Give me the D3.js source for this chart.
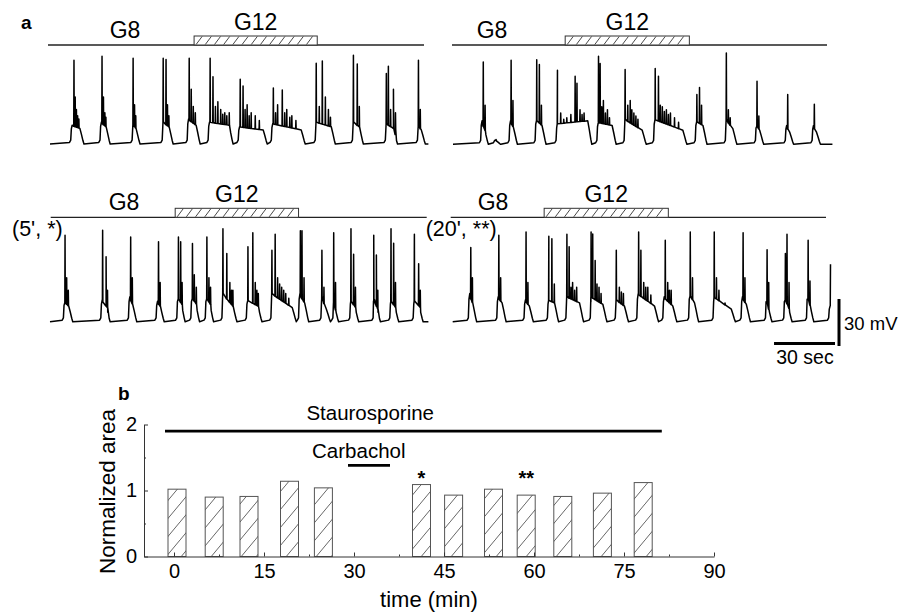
<!DOCTYPE html>
<html>
<head>
<meta charset="utf-8">
<script src="https://cdn.jsdelivr.net/npm/d3@7"></script>
<style>
  body { margin: 0; background: #fff; }
  text { font-family: "Liberation Sans", Arial, sans-serif; }
</style>
</head>
<body>
<script>
// ---- panel a: membrane potential traces (time in s, mV above baseline) ----
// each burst: [start, end, plateau at start, plateau at end, [[spike time, spike mV], ...]]
const bursts1 = [
  [10.2, 16.7, 12, 10, [[11.8, 53.5], [12.4, 30], [13.0, 22], [13.6, 18], [14.2, 16]]],
  [24.6, 29.6, 14, 11, [[25.6, 56], [26.3, 30], [27.0, 20], [27.5, 17]]],
  [40.4, 44.3, 13, 10, [[40.9, 54.8], [41.6, 25], [42.2, 18]]],
  [55.2, 60.6, 14, 11, [[55.7, 54.8], [57.1, 54], [57.8, 25], [58.5, 18]]],
  [67.5, 73.9, 16, 12, [[68.5, 54.8], [69.5, 35], [70.5, 24], [71.5, 20]]],
  [77.8, 90.1, 14, 12, [[78.8, 54.8], [80.2, 43], [81.4, 24], [82.6, 27], [84, 22], [85, 19], [86, 20], [87, 18], [88.2, 20]]],
  [92.6, 106.9, 11, 9, [[93.6, 41.4], [95, 37], [96, 22], [97, 25], [98, 18], [99, 20], [101, 18], [103, 15]]],
  [108.9, 125.6, 13, 9, [[109.9, 35.7], [111, 20], [112, 25], [114.3, 34.4], [115.5, 20], [116.5, 22], [118, 17], [119, 18], [121, 15]]],
  [130.5, 140.4, 14, 11, [[131, 51.6], [132.5, 24], [134, 52.9], [135.5, 30], [137, 22], [138, 17]]],
  [148.8, 154.2, 14, 11, [[149.3, 56.7], [151.2, 51], [152.2, 24]]],
  [165, 171, 13, 10, [[165.5, 45], [166.5, 49.7], [167.6, 22], [169, 35], [170, 20]]],
  [180.8, 184.7, 12, 9, [[181.3, 53.5], [182.2, 22]]]
];
const bursts2 = [
  [13.6, 17.4, 15, 10, [[14.9, 52.6], [15.8, 25]]],
  [20.5, 23.5, 3, 2, []],
  [27.6, 31.7, 15, 11, [[28.6, 53.7], [29.5, 28]]],
  [40.4, 45.8, 16, 12, [[41.2, 54], [42.5, 51], [43.5, 25]]],
  [50.7, 68.3, 13, 15, [[51.4, 47.3], [53, 20], [54.5, 16], [56, 17], [58, 19], [60.1, 43.5], [61, 39], [62.5, 22], [63.5, 19], [64.5, 20]]],
  [70.8, 80.3, 14, 12, [[71.6, 56.2], [72.4, 51.6], [73.2, 24], [74, 28], [75, 20], [76, 22], [77, 17]]],
  [84.2, 95.1, 16, 9, [[84.7, 47.8], [86, 25], [87.2, 28], [88, 22], [89, 20], [90, 18], [91, 16]]],
  [98.7, 115.1, 16, 9, [[99.5, 48.4], [101.1, 43.5], [102, 25], [103, 24], [104, 21], [105, 22], [106, 19], [107, 20], [109, 17], [111, 14]]],
  [119.2, 125, 15, 12, [[120, 31.8], [121.3, 36.3], [122.3, 25]]],
  [134, 139.7, 16, 10, [[134.5, 58.3], [135.5, 22], [136.4, 17]]],
  [148.8, 152.9, 13, 9, [[149.6, 40.3], [150.5, 18]]],
  [163.5, 167.6, 12, 8, [[164.7, 31.8]]],
  [176.7, 180.8, 12, 8, [[177.8, 25.5]]]
];
const bursts3 = [
  [6.6, 11.2, 13, 10, [[7.4, 55.2], [8.2, 28], [9, 20]]],
  [25, 29.6, 14, 10, [[25.9, 58.4], [27.6, 41.4], [28.3, 20]]],
  [38.6, 42.7, 16, 11, [[39.7, 54.1], [40.5, 28]]],
  [52.2, 56.2, 13, 10, [[53.4, 51], [54.2, 25]]],
  [62.4, 66.5, 16, 12, [[63.2, 54.1], [64.3, 51], [65, 25]]],
  [69.3, 73.6, 16, 12, [[70.1, 49.9], [71, 30], [72, 22]]],
  [76.4, 80.5, 16, 12, [[77.2, 54.1], [78.2, 28], [79, 22]]],
  [84.6, 92, 18, 10, [[85.1, 59.4], [87, 43.5], [88.5, 25], [89.3, 20], [90, 20]]],
  [96.6, 104.3, 14, 10, [[97.4, 47.8], [99.8, 56.7], [101, 25], [101.8, 20], [102.5, 18]]],
  [108.7, 121.2, 18, 9, [[109.2, 45.6], [110.8, 55.8], [112, 28], [113, 24], [114, 22], [115, 20], [116, 18], [117.5, 15]]],
  [122.3, 127.3, 18, 12, [[123.2, 58], [124, 58], [125, 28]]],
  [133.3, 138, 16, 8, [[133.8, 45.6], [134.8, 22]]],
  [139.2, 142, 14, 10, [[139.6, 56.7], [140.5, 25]]],
  [147.5, 151.9, 14, 10, [[148.1, 59.4], [149.4, 43], [150.3, 22]]],
  [159, 162.6, 14, 10, [[159.3, 55.2], [160.6, 42.5], [161.3, 20]]],
  [167.2, 171.6, 14, 10, [[167.8, 59.4], [169.1, 50], [170, 25]]],
  [178.7, 183.6, 14, 10, [[179.3, 55.8], [181.4, 37], [182.2, 20]]]
];
const bursts4 = [
  [7.7, 11.8, 18, 12, [[8.9, 47.3], [9.7, 28]]],
  [21.7, 26.3, 16, 12, [[22.7, 55.2], [23.6, 28]]],
  [35.1, 39.7, 14, 10, [[36.1, 57.3], [37, 25]]],
  [46.6, 52.1, 14, 12, [[47.3, 54.6], [48.8, 53], [50, 24]]],
  [55.7, 64.4, 16, 12, [[56.2, 55.8], [57.3, 47.8], [58.2, 22], [59, 25], [60, 20], [61, 22]]],
  [67.7, 75.9, 16, 11, [[68.1, 57.3], [68.9, 56], [70.1, 39], [71, 24], [72, 22], [73, 18]]],
  [80, 86.5, 14, 10, [[80.5, 45.6], [82, 22], [83, 19], [84, 18]]],
  [90.6, 101.3, 18, 10, [[91.5, 57.3], [92.6, 45.6], [94, 25], [95, 22], [96, 22], [97.5, 17]]],
  [103.4, 110.3, 16, 10, [[104.6, 52], [105.8, 25], [106.6, 20], [107.5, 20]]],
  [116.1, 121, 18, 12, [[116.9, 57.3], [118, 28]]],
  [128.1, 139.1, 16, 8, [[128.7, 57.3], [129.8, 28], [131, 20], [134, 12]]],
  [141.9, 146.5, 16, 11, [[142.9, 56.7], [143.8, 28]]],
  [153.9, 157.1, 16, 10, [[154.7, 46], [155.5, 25]]],
  [162.9, 167, 16, 10, [[163.7, 43.5], [164.5, 55.8], [165.5, 25]]],
  [174.1, 177.7, 18, 11, [[174.9, 52], [175.8, 26]]],
  [185, 188, 10, 10, [[185.9, 36.7]]]
];
const traceEnd = [186.2, 186.7, 186.2, 185.9];
const g12Start = [70.9, 55.2, 61.6, 45];
const g12End = [131.5, 116.3, 122.3, 106.1];
const traceTags = ["", "", "(5', *)", "(20', **)"];

// ---- panel b: normalized burst area ----
const barTimes = [0.5, 6.7, 12.5, 19.25, 24.9, 41.25, 46.6, 53.25, 58.7, 64.8, 71.4, 78.2];
const barValues = [1.02, 0.90, 0.91, 1.14, 1.04, 1.09, 0.93, 1.02, 0.93, 0.91, 0.96, 1.12];
const starIdx = [5, 8];
const starText = ["*", "**"];
const xTicks = [0, 15, 30, 45, 60, 75, 90];
const xMinor = [7.5, 22.5, 37.5, 52.5, 67.5, 82.5];
const yTicks = [0, 1, 2];
const yMinor = [0.5, 1.5];
const stauro = [-1.5, 81.3];
const carba = [29, 36];

const W = 909, H = 612;
const svg = d3.select("body").append("svg").attr("width", W).attr("height", H);
svg.append("rect").attr("width", W).attr("height", H).attr("fill", "#fff");

// layout of the four traces
const layout = [
  { x0: 50,    base: 144,   lineY: 45,    lineX: [48, 424],    g8x: 125 },
  { x0: 453,   base: 144.3, lineY: 45,    lineX: [452, 827],   g8x: 492 },
  { x0: 50,    base: 321.7, lineY: 217.3, lineX: [50.7, 426.7], g8x: 124 },
  { x0: 452.7, base: 321.7, lineY: 217.3, lineX: [450.7, 826], g8x: 493 }
];
const allBursts = [bursts1, bursts2, bursts3, bursts4];

function buildWave(bursts, tEnd) {
  const pts = [[0, 0]];
  bursts.forEach(([t0, t1, p0, p1, spikes]) => {
    const tp = Math.max(t0 + 0.8, t1 - 2.0);
    const seg = [[t0 - 0.6, 1], [t0, 2.5], [t0 + 0.3, p0 * 0.8], [t0 + 0.7, p0], [tp, p1],
                 [t1 - 1.2, p1 * 0.6], [t1 - 0.5, p1 * 0.22], [t1, 0]];
    spikes.forEach(([ts, v]) => {
      const lev = p0 + (p1 - p0) * Math.max(0, ts - t0) / (tp - t0);
      seg.push([ts - 0.12, lev], [ts, v], [ts + 0.12, lev]);
    });
    seg.sort((a, b) => a[0] - b[0]);
    pts.push(...seg);
  });
  const out = pts.filter(p => p[0] <= tEnd);
  if (pts[pts.length - 1][0] < tEnd) out.push([tEnd, 0]);
  return out;
}

let x4, y4;
layout.forEach((L, i) => {
  const x = d3.scaleLinear().domain([0, 186]).range([L.x0, L.x0 + 378]);
  const y = d3.scaleLinear().domain([0, 30]).range([L.base, L.base - 47]);
  if (i === 3) { x4 = x; y4 = y; }
  const g = svg.append("g");

  // solution line + G12 hatched box
  g.append("line").attr("x1", L.lineX[0]).attr("x2", L.lineX[1])
    .attr("y1", L.lineY).attr("y2", L.lineY).attr("stroke", "#222").attr("stroke-width", 1.3);
  const bx0 = x(g12Start[i]), bx1 = x(g12End[i]);
  g.append("rect").attr("x", bx0).attr("y", L.lineY - 9).attr("width", bx1 - bx0).attr("height", 9)
    .attr("fill", "#fff").attr("stroke", "#333").attr("stroke-width", 1);
  d3.range(bx0 + 2, bx1 - 4, 9.2).forEach(hx => {
    g.append("line").attr("x1", hx).attr("y1", L.lineY - 0.5).attr("x2", hx + 6).attr("y2", L.lineY - 8.5)
      .attr("stroke", "#333").attr("stroke-width", 0.9);
  });
  g.append("text").attr("x", L.g8x).attr("y", L.lineY - 7).attr("text-anchor", "middle")
    .attr("font-size", 23).text("G8");
  g.append("text").attr("x", (bx0 + bx1) / 2).attr("y", L.lineY - 15.5).attr("text-anchor", "middle")
    .attr("font-size", 23).text("G12");
  if (traceTags[i]) {
    g.append("text").attr("x", L.x0 - 38 + (i === 3 ? 11 : 0)).attr("y", L.lineY + 18.5)
      .attr("font-size", 21.5).text(traceTags[i]);
  }

  // the trace
  const line = d3.line().x(d => x(d[0])).y(d => y(d[1]));
  g.append("path").datum(buildWave(allBursts[i], traceEnd[i]))
    .attr("d", line).attr("fill", "none").attr("stroke", "#000")
    .attr("stroke-width", 1.5).attr("stroke-linejoin", "round");
});

// scale bars (30 sec, 30 mV)
const sbX = 835, sbY = 343.5;
svg.append("line").attr("x1", sbX - (x4(30) - x4(0))).attr("x2", sbX)
  .attr("y1", sbY).attr("y2", sbY).attr("stroke", "#000").attr("stroke-width", 3);
svg.append("line").attr("x1", 839).attr("x2", 839)
  .attr("y1", 346).attr("y2", 346 - (y4(0) - y4(30))).attr("stroke", "#000").attr("stroke-width", 3);
svg.append("text").attr("x", 844).attr("y", 330).attr("font-size", 18.5).text("30 mV");
svg.append("text").attr("x", 805).attr("y", 364).attr("text-anchor", "middle").attr("font-size", 19.5).text("30 sec");

svg.append("text").attr("x", 21).attr("y", 29).attr("font-size", 19).attr("font-weight", "bold").text("a");
svg.append("text").attr("x", 118).attr("y", 400).attr("font-size", 19).attr("font-weight", "bold").text("b");

// ---- bar chart ----
const xB = d3.scaleLinear().domain([-5, 90]).range([144, 714]);
const yB = d3.scaleLinear().domain([0, 2]).range([556.5, 424.5]);

const defs = svg.append("defs");
defs.append("pattern").attr("id", "hatch").attr("patternUnits", "userSpaceOnUse")
  .attr("width", 15).attr("height", 18)
  .append("path").attr("d", "M-3,21.6 L18,-3.6 M-3,3.6 L3,-3.6 M12,25.2 L18,18")
  .attr("stroke", "#555").attr("stroke-width", 0.9);

svg.selectAll(".bar").data(barValues).enter().append("rect")
  .attr("class", "bar")
  .attr("x", (d, i) => xB(barTimes[i] - 1.5))
  .attr("width", xB(3) - xB(0))
  .attr("y", d => yB(d))
  .attr("height", d => yB(0) - yB(d))
  .attr("fill", "url(#hatch)").attr("stroke", "#555").attr("stroke-width", 1);

const xAxis = svg.append("g").attr("transform", `translate(0,${yB(0)})`)
  .call(d3.axisBottom(xB).tickValues(xTicks).tickSize(-4).tickSizeOuter(0).tickPadding(7));
xAxis.append("g").call(d3.axisBottom(xB).tickValues(xMinor).tickSize(-2).tickFormat(""))
  .call(g => g.select(".domain").remove());
const yAxis = svg.append("g").attr("transform", `translate(${xB(-5)},0)`)
  .call(d3.axisLeft(yB).tickValues(yTicks).tickFormat(d3.format("d")).tickSize(-4).tickSizeOuter(0).tickPadding(7));
yAxis.append("g").call(d3.axisLeft(yB).tickValues(yMinor).tickSize(-2).tickFormat(""))
  .call(g => g.select(".domain").remove());
[xAxis, yAxis].forEach(a => {
  a.attr("font-family", null).attr("font-size", null);
  a.selectAll("path, line").attr("stroke", "#333");
  a.selectAll("text").attr("font-size", 20).attr("fill", "#000");
});

svg.append("text").attr("transform", `translate(115,${yB(1) + 1}) rotate(-90)`)
  .attr("text-anchor", "middle").attr("font-size", 22.5).text("Normalized area");
svg.append("text").attr("x", 429).attr("y", 606.5).attr("text-anchor", "middle")
  .attr("font-size", 22).text("time (min)");

// treatment bars
svg.append("line").attr("x1", xB(stauro[0])).attr("x2", xB(stauro[1]))
  .attr("y1", yB(1.9)).attr("y2", yB(1.9)).attr("stroke", "#000").attr("stroke-width", 2.6);
svg.append("text").attr("x", xB(32.7)).attr("y", yB(1.9) - 11).attr("text-anchor", "middle")
  .attr("font-size", 20.5).text("Staurosporine");
svg.append("line").attr("x1", xB(carba[0])).attr("x2", xB(carba[1]))
  .attr("y1", yB(1.38)).attr("y2", yB(1.38)).attr("stroke", "#000").attr("stroke-width", 2.6);
svg.append("text").attr("x", xB(30.8)).attr("y", yB(1.38) - 7).attr("text-anchor", "middle")
  .attr("font-size", 20.5).text("Carbachol");

svg.selectAll(".star").data(starIdx).enter().append("text")
  .attr("class", "star")
  .attr("x", (d) => xB(barTimes[d]))
  .attr("y", yB(1.08))
  .attr("text-anchor", "middle").attr("font-size", 20).attr("font-weight", "bold")
  .text((d, i) => starText[i]);
</script>
</body>
</html>
